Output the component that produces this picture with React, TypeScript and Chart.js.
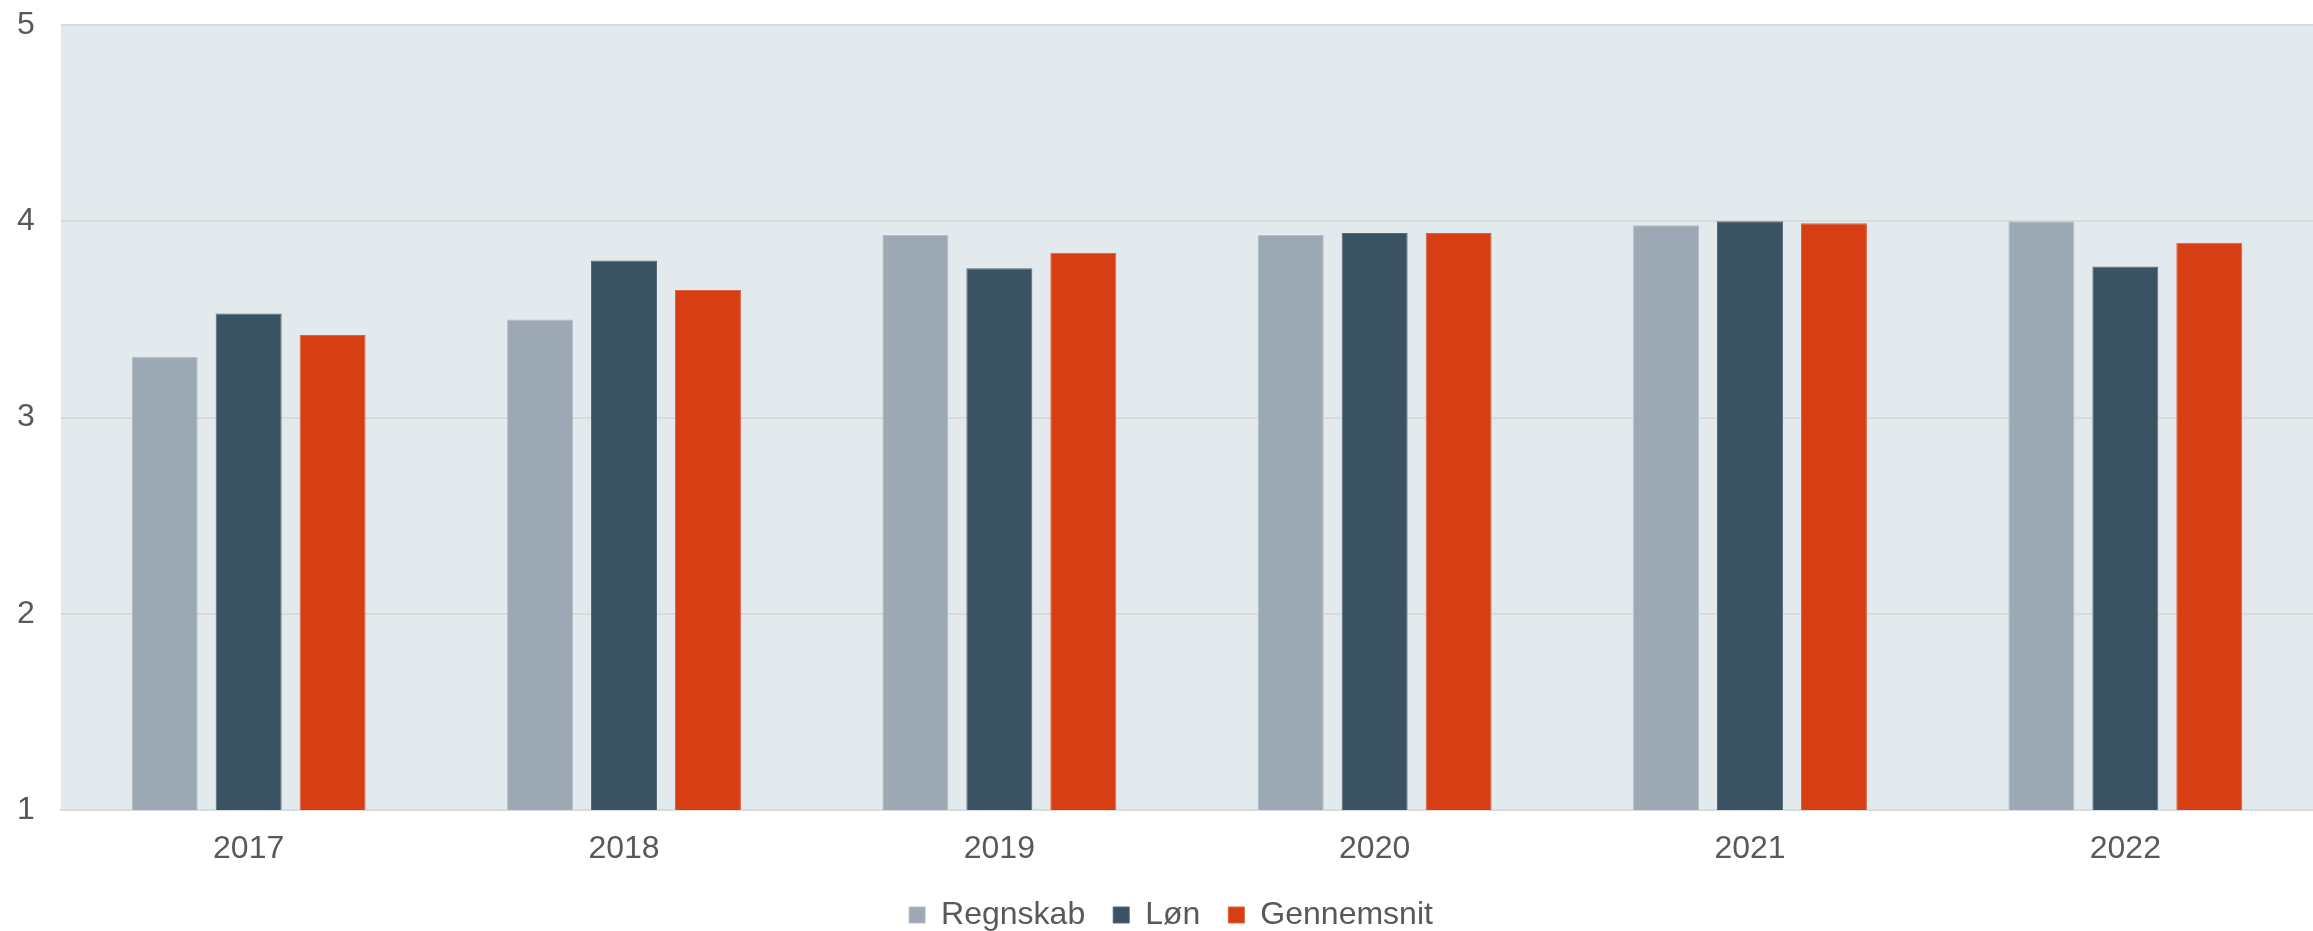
import React, { useEffect, useRef } from "react";
import { Chart, registerables } from "chart.js";

Chart.register(...registerables);

const categories = ["2017", "2018", "2019", "2020", "2021", "2022"];
const regnskab = [3.31, 3.5, 3.93, 3.93, 3.98, 4.0];
const loen = [3.53, 3.8, 3.76, 3.94, 4.0, 3.77];
const gennemsnit = [3.42, 3.65, 3.84, 3.94, 3.99, 3.89];
const seriesNames = ["Regnskab", "Løn", "Gennemsnit"];
const yMin = 1;
const yMax = 5;

const FONT = "'Liberation Sans', Arial, sans-serif";
const TEXT = "#595959";

const plotBg = {
  id: "plotBg",
  beforeDraw(chart: any) {
    const { ctx, chartArea } = chart;
    if (!chartArea) return;
    ctx.save();
    ctx.fillStyle = "#e3eaee";
    ctx.fillRect(chartArea.left, chartArea.top, chartArea.right - chartArea.left, chartArea.bottom - chartArea.top);
    ctx.restore();
  },
};

export default function App() {
  const ref = useRef<HTMLCanvasElement | null>(null);
  useEffect(() => {
    document.body.style.margin = "0";
    const canvas = ref.current;
    if (!canvas) return;
    const chart = new Chart(canvas, {
      type: "bar",
      data: {
        labels: categories,
        datasets: [
          {
            label: seriesNames[0],
            data: regnskab,
            backgroundColor: "#9ca8b3",
            borderColor: "#b4bec7",
            borderWidth: 1,
          },
          {
            label: seriesNames[1],
            data: loen,
            backgroundColor: "#3b5263",
            borderColor: "#56697a",
            borderWidth: 1,
          },
          {
            label: seriesNames[2],
            data: gennemsnit,
            backgroundColor: "#d83e13",
            borderColor: "#e0603d",
            borderWidth: 1,
          },
        ],
      },
      options: {
        responsive: false,
        animation: false,
        devicePixelRatio: 1,
        datasets: {
          bar: {
            categoryPercentage: 0.671,
            barPercentage: 0.786,
          },
        },
        layout: {
          padding: { top: 25, left: 17, right: -12, bottom: -10 },
        },
        plugins: {
          tooltip: { enabled: false },
          legend: {
            position: "bottom",
            labels: {
              boxWidth: 16,
              boxHeight: 16,
              padding: 28,
              color: TEXT,
              font: { family: FONT, size: 32 },
            },
          },
        },
        scales: {
          x: {
            grid: { display: false, drawTicks: false },
            border: { display: true, color: "#d9dcde", width: 2 },
            ticks: {
              color: TEXT,
              font: { family: FONT, size: 32 },
              padding: 20,
            },
            afterFit(scale: any) {
              scale.height = 61;
            },
          },
          y: {
            min: yMin,
            max: yMax,
            grid: { color: "#d9dbdd", lineWidth: 2, drawTicks: false },
            border: { display: false },
            ticks: {
              stepSize: 1,
              color: TEXT,
              font: { family: FONT, size: 32 },
              padding: 0,
              crossAlign: "far",
            },
            afterFit(scale: any) {
              scale.width = 44;
            },
          },
        },
      },
      plugins: [plotBg],
    });
    return () => chart.destroy();
  }, []);
  return (
    <div style={{ width: 2313, height: 931 }}>
      <canvas ref={ref} width={2313} height={931} style={{ display: "block" }} />
    </div>
  );
}
